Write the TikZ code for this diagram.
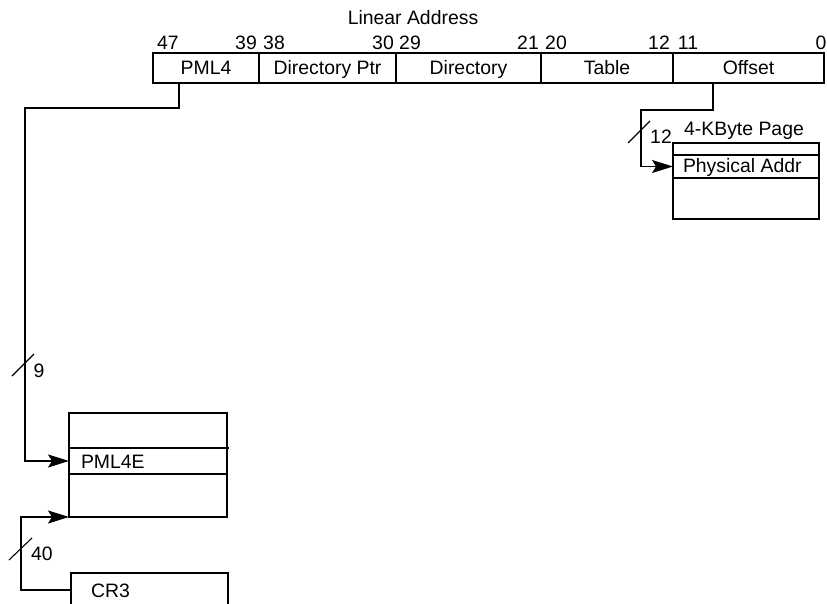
\documentclass[tikz,border=0pt]{standalone}
\usepackage{fontspec}
\setmainfont{Liberation Sans}
\usetikzlibrary{arrows.meta}
\begin{document}
\begin{tikzpicture}[x=1pt,y=-1pt,
  every node/.style={font=\fontsize{19.4}{24}\selectfont, inner sep=0pt, outer sep=0pt},
  big/.style={text height=14pt, text depth=0pt},
  field/.style={draw, line width=1.3pt, minimum height=30pt, big},
  bigbox/.style={draw, line width=2.9pt},
  rowline/.style={line width=1.3pt},
  conn/.style={line width=1.3pt},
  arr/.style={conn, -{Stealth[length=21pt,width=13pt,inset=4pt]}},
  slash/.style={line width=1.1pt}
]
\clip (0,0) rectangle (827,604);
\path[fill=white] (0,0) rectangle (827,604);

% title and bit numbers
\node[big] (title) at (413,18) {Linear Address};
\node[big] (b47) at (168,43) {47};
\node[big] (b39) at (246,43) {39};
\node[big] (b38) at (274,43) {38};
\node[big] (b30) at (383,43) {30};
\node[big] (b29) at (410,43) {29};
\node[big] (b21) at (528,43) {21};
\node[big] (b20) at (556,43) {20};
\node[big] (b12) at (659,43) {12};
\node[big] (b11) at (688,43) {11};
\node[big] (b0) at (821,43) {0};

% linear address fields
\node[field, minimum width=106pt] (pml4) at (206,68) {PML4};
\node[field, minimum width=137pt] (dirptr) at (327.5,68) {Directory Ptr};
\node[field, minimum width=145pt] (dir) at (468.5,68) {Directory};
\node[field, minimum width=132pt] (table) at (607,68) {Table};
\node[field, minimum width=151pt] (offset) at (748.5,68) {Offset};
\draw[line width=2.9pt] (pml4.north west) rectangle (offset.south east);

% 4-KByte page
\node[bigbox, minimum width=146pt, minimum height=76pt] (page) at (746,181) {};
\node[minimum width=146pt, minimum height=23pt] (physrow) at (746,166.5) {};
\draw[rowline] (physrow.north west) -- (physrow.north east);
\draw[rowline] (physrow.south west) -- (physrow.south east);
\node[big, anchor=west] (phys) at (683,166) {Physical Addr};
\node[big] (pagelbl) at (744,129) {4-KByte Page};

% PML4 table
\node[bigbox, minimum width=158pt, minimum height=104pt] (pml4t) at (148,465) {};
\node[minimum width=158pt, minimum height=26pt] (pmlrow) at (148,461) {};
\draw[rowline] (pmlrow.north west) -- ([xshift=2pt]pmlrow.north east);
\draw[rowline] (pmlrow.south west) -- (pmlrow.south east);
\node[big, anchor=west] (pml4e) at (81,461) {PML4E};

% CR3
\node[bigbox, minimum width=157pt, minimum height=34pt] (cr3box) at (149.5,590) {};
\node[big, anchor=west] (cr3) at (91,590) {CR3};

% connectors
\coordinate (pb) at (25,108);
\draw[arr] ([xshift=-27pt]pml4.south) |- (pb) |- (pmlrow.west);
\coordinate (ob) at (641,110);
\draw[arr] ([xshift=-35.5pt]offset.south) |- (ob) |- (physrow.west);
\coordinate (cb) at (21,517);
\draw[arr] (cr3box.west) -| (cb) -- (pml4t.south west);

% slashes and widths
\draw[slash] (12,376) -- (34,354);
\node[big] (w9) at (39,370) {9};
\draw[slash] (628,143) -- (650,121);
\node[big] (w12) at (661,137) {12};
\draw[slash] (9,560) -- (32,538);
\node[big] (w40) at (42,553) {40};
\end{tikzpicture}
\end{document}
